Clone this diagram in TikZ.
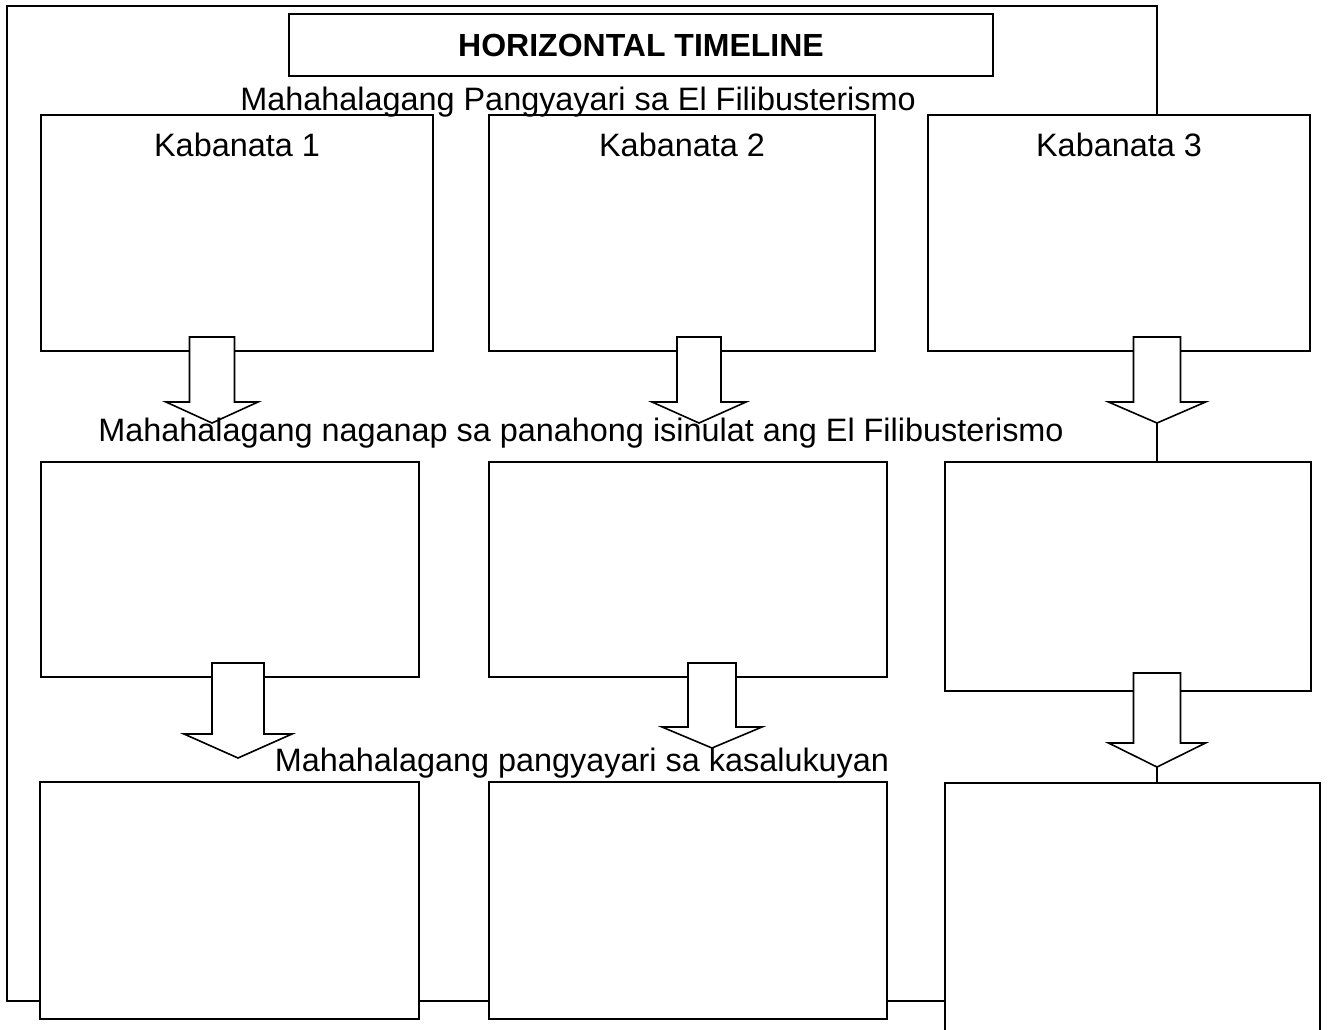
\documentclass[tikz,border=0pt]{standalone}
\usepackage{fontspec}
\setmainfont{Liberation Sans}
\usepackage{tikz}
\tikzset{
  panel/.style={draw,line width=1.6pt,fill=white,inner sep=0pt},
  frameline/.style={draw,line width=1.8pt},
  txt/.style={font=\fontsize{32.4}{38}\selectfont,inner sep=0pt,anchor=base},
}
\def\blockarrow#1#2#3#4#5#6{
  % 1: x of the tip
  % 2: y of the shaft top
  % 3: y of the head
  % 4: y of the tip
  % 5: half shaft width
  % 6: half head width
  \begin{scope}[shift={(#1,0)}]
    \draw[line width=1.6pt,fill=white,line join=miter]
      (-#5,#2) -- (#5,#2) -- (#5,#3) -- (#6,#3) -- (0,#4)
      -- (-#6,#3) -- (-#5,#3) -- cycle;
  \end{scope}
}

\begin{document}
\begin{tikzpicture}[x=1pt,y=-1pt]
    \clip (0,0) rectangle (1328,1029);
    \fill[white] (0,0) rectangle (1328,1029);
    \draw[frameline] (7,6) rectangle (1157,1001);
    \node[panel,minimum width=704pt,minimum height=62pt,
      font=\fontsize{32}{38}\selectfont\bfseries] (title) at (641,45) {HORIZONTAL TIMELINE};

    % first row
    \node[panel,minimum width=392pt,minimum height=236pt] (k1) at (237,233) {};
    \node[panel,minimum width=386pt,minimum height=236pt] (k2) at (682,233) {};
    \node[panel,minimum width=382pt,minimum height=236pt] (k3) at (1119,233) {};
    % second row
    \node[panel,minimum width=378pt,minimum height=215pt] (n1) at (230,569.5) {};
    \node[panel,minimum width=398pt,minimum height=215pt] (n2) at (688,569.5) {};
    \node[panel,minimum width=366pt,minimum height=229pt] (n3) at (1128,576.5) {};
    % third row
    \node[panel,minimum width=379pt,minimum height=237pt] (p1) at (229.5,900.5) {};
    \node[panel,minimum width=398pt,minimum height=237pt] (p2) at (688,900.5) {};
    \node[panel,minimum width=375pt,minimum height=257pt] (p3) at (1132.5,911.5) {};

    % \blockarrow{x}{top}{head}{tip}{shaft}{head}
    \blockarrow{212}{337}{402}{423}{22.5}{46}
    \blockarrow{699}{337}{402}{423}{22}{47}
    \blockarrow{1157}{337}{402}{423}{23.5}{48.5}
    \blockarrow{238}{663}{734}{758}{26}{54}
    \blockarrow{712}{663}{727}{748}{24}{50}
    \blockarrow{1157}{673}{743}{767}{23.5}{48.5}

    \node[txt] (k1t) at ([yshift=-42pt]k1.north) {Kabanata 1};
    \node[txt] (k2t) at ([yshift=-42pt]k2.north) {Kabanata 2};
    \node[txt] (k3t) at ([yshift=-42pt]k3.north) {Kabanata 3};

    \node[txt] (row1) at (578,110) {Mahahalagang Pangyayari sa El Filibusterismo};
    \node[txt] (row2) at (581,441) {Mahahalagang naganap sa panahong isinulat ang El Filibusterismo};
    \node[txt] (row3) at (582,771) {Mahahalagang pangyayari sa kasalukuyan};
  \end{tikzpicture}
\end{document}
